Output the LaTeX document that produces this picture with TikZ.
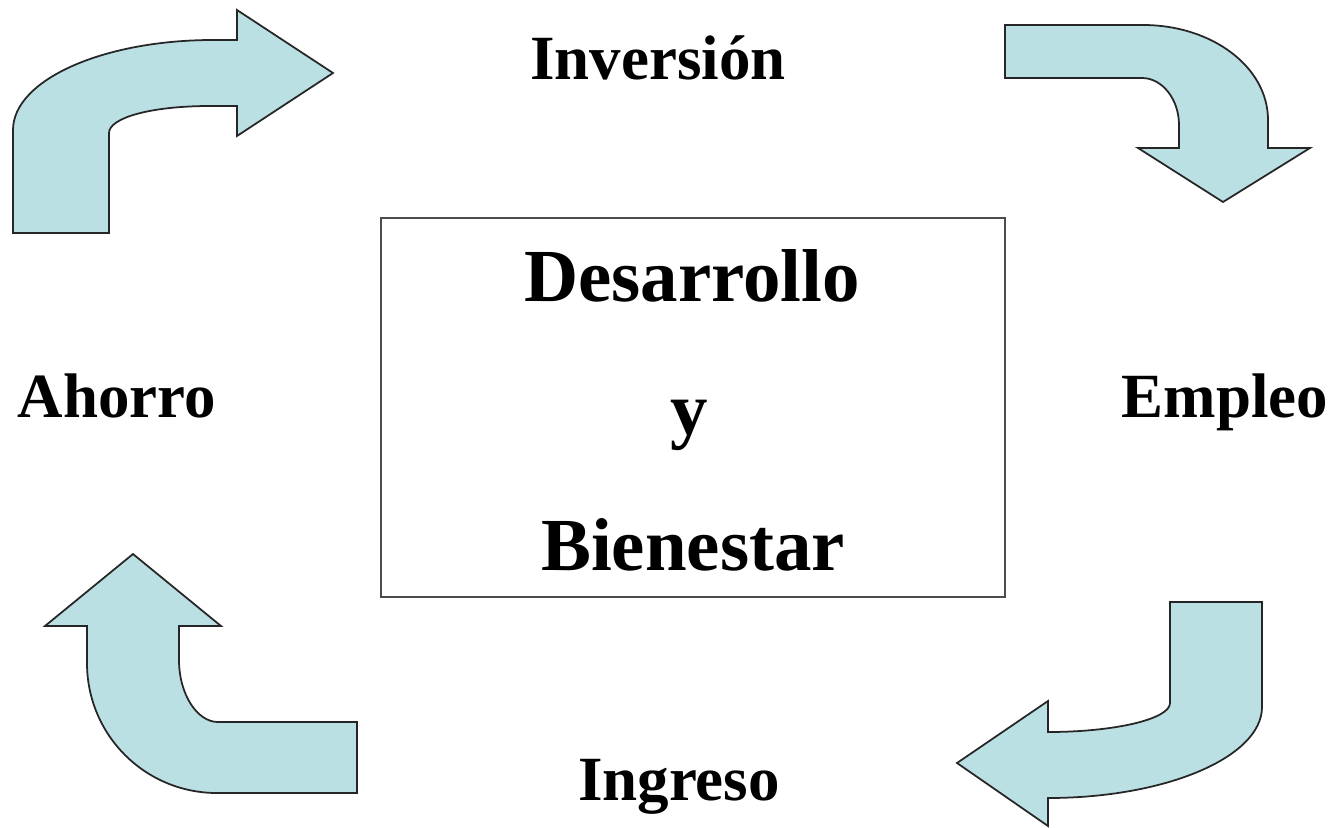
\documentclass[tikz,border=0pt]{standalone}
\usepackage{fontspec}
\setmainfont{Liberation Serif}
\definecolor{flecha}{RGB}{187,224,227}

\begin{document}
\begin{tikzpicture}[x=0.01cm, y=-0.01cm,
	arrowshape/.style={fill=flecha, draw=black!85, line width=0.5pt, line join=miter},
	label/.style={font=\fontsize{17.9pt}{20pt}\selectfont\bfseries, anchor=base, inner sep=0pt},
	center/.style={font=\fontsize{21.3pt}{24pt}\selectfont\bfseries, anchor=base, inner sep=0pt}]
	\useasboundingbox (0,0) rectangle (1336,827);

	% box in the middle
	\node (box) [draw=black!70, line width=0.6pt, minimum width=6.24cm, minimum height=3.79cm, inner sep=0pt] at (693,407.5) {};
	\node[center] (desarrollo) at (692,301) {Desarrollo};
	\node[center] (y) at (689,434) {y};
	\node[center] (bienestar) at (693,570) {Bienestar};

	% labels of the cycle
	\node[label] (inversion) at (658,79) {Inversión};
	\node[label] (empleo) at (1225,417) {Empleo};
	\node[label] (ingreso) at (679,800) {Ingreso};
	\node[label] (ahorro) at (117,417) {Ahorro};

	% top left: up, then right
	\draw[arrowshape] (13,233) -- (13,130) .. controls (13,80) and (103,40) .. (213,40) -- (237,40) -- (237,10) -- (333,73)
		-- (237,136) -- (237,106) -- (210,106) .. controls (150,106) and (109,118) .. (109,133) -- (109,233) -- cycle;
	% top right: right, then down
	\draw[arrowshape] (1005,25) -- (1143,25) .. controls (1212,25) and (1268,67) .. (1268,120) -- (1268,148) -- (1310,148)
		-- (1223,202) -- (1138,148) -- (1179,148) -- (1179,125) .. controls (1179,99) and (1162,78) .. (1142,78) -- (1005,78) -- cycle;
	% bottom right: down, then left
	\draw[arrowshape] (1170,602) -- (1262,602) -- (1262,707) .. controls (1262,757) and (1166,798) .. (1048,798) -- (1048,826)
		-- (957,763) -- (1048,701) -- (1048,732) .. controls (1115,732) and (1170,719) .. (1170,703) -- cycle;
	% bottom left: left, then up
	\draw[arrowshape] (357,722) -- (218,722) .. controls (197,722) and (179,694) .. (179,660) -- (179,626) -- (221,626)
		-- (133,554) -- (45,626) -- (87,626) -- (87,663) .. controls (87,735) and (145,793) .. (217,793) -- (357,793) -- cycle;

\end{tikzpicture}
\end{document}
